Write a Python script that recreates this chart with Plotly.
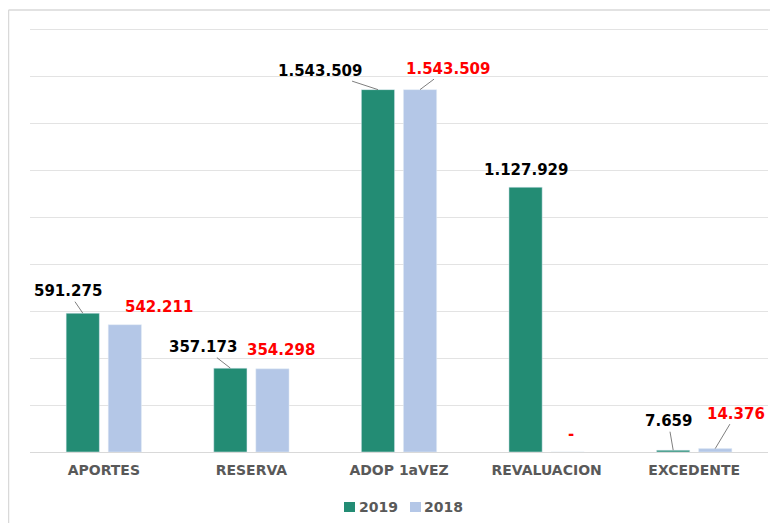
import plotly.graph_objects as go

categories = ["APORTES", "RESERVA", "ADOP 1aVEZ", "REVALUACION", "EXCEDENTE"]
series_names = ["2019", "2018"]
values_2019 = [591275, 357173, 1543509, 1127929, 7659]
values_2018 = [542211, 354298, 1543509, 0, 14376]

# label offsets (px) of each data label relative to the bar top, and whether a leader line is drawn
off_2019 = [(-15, -22, True), (-27, -21, True), (-58, -19, True), (0, -17, False), (-5, -29, True)]
off_2018 = [(34, -18, False), (9, -19, False), (28, -21, True), (3, -18, False), (21, -35, True)]

GREEN = "#238C74"
BLUE = "#B4C7E7"
GRAY_TXT = "#595959"
FONT = "DejaVu Sans"

# plot area in page pixels (used to place frame / legend in paper coords)
PX_L, PX_R, PX_T, PX_B = 30, 768, 28, 452
W = PX_R - PX_L
H = PX_B - PX_T


def px_x(px):
    return (px - PX_L) / W


def px_y(py):
    return (PX_B - py) / H


def fmt(v):
    return "-" if v == 0 else f"{v:,}".replace(",", ".")


fig = go.Figure()
fig.add_trace(go.Bar(name=series_names[0], x=categories, y=values_2019, marker_color=GREEN))
fig.add_trace(go.Bar(name=series_names[1], x=categories, y=values_2018, marker_color=BLUE))

annotations = []
for vals, offs, shift, color in [(values_2019, off_2019, -21, "#000000"),
                                  (values_2018, off_2018, 21, "#FF0000")]:
    for cat, v, (ax, ay, lead) in zip(categories, vals, offs):
        annotations.append(dict(
            x=cat, y=v, xref="x", yref="y", xshift=shift,
            text=fmt(v), showarrow=True, ax=ax, ay=ay,
            arrowhead=0, arrowwidth=1,
            arrowcolor="#7F7F7F" if lead else "rgba(0,0,0,0)",
            font=dict(family=FONT, size=15, color=color, weight="bold"),
        ))

# manual legend (square swatches + labels)
shapes = []
legend_items = [(series_names[0], GREEN, 344, 378), (series_names[1], BLUE, 410, 443)]
for name, col, sq_x, txt_x in legend_items:
    shapes.append(dict(type="rect", xref="paper", yref="paper",
                       x0=px_x(sq_x), x1=px_x(sq_x + 11), y0=px_y(512), y1=px_y(502),
                       fillcolor=col, line=dict(width=0)))
    annotations.append(dict(x=px_x(txt_x), y=px_y(507), xref="paper", yref="paper",
                            text=name, showarrow=False, xanchor="center", yanchor="middle",
                            font=dict(family=FONT, size=14, color=GRAY_TXT, weight="bold")))

# outer chart frame (top and left edges)
shapes += [
    dict(type="line", xref="paper", yref="paper", x0=px_x(8.5), x1=px_x(790), y0=px_y(10), y1=px_y(10),
         line=dict(color="#D9D9D9", width=1.5)),
    dict(type="line", xref="paper", yref="paper", x0=px_x(8.5), x1=px_x(8.5), y0=px_y(530), y1=px_y(10),
         line=dict(color="#D9D9D9", width=1.5)),
]

fig.update_layout(
    width=778, height=523,
    margin=dict(l=22, r=18, t=20, b=79),
    paper_bgcolor="white", plot_bgcolor="white",
    barmode="group", bargap=0.43, bargroupgap=0.21,
    showlegend=False,
    annotations=annotations,
    shapes=shapes,
    font=dict(family=FONT),
)
fig.update_xaxes(showgrid=False, showline=False, ticks="", ticklabelstandoff=8,
                 tickfont=dict(family=FONT, size=14, color=GRAY_TXT, weight="bold"))
fig.update_yaxes(range=[0, 1806000], dtick=200000, showticklabels=False,
                 showgrid=True, gridcolor="#E3E3E3", gridwidth=1,
                 zeroline=True, zerolinecolor="#D9D9D9", zerolinewidth=1)

fig.write_html("out.html")
